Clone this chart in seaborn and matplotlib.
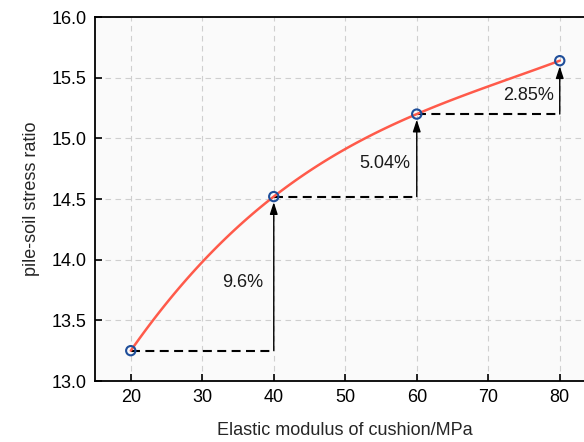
import matplotlib
matplotlib.use("Agg")
import matplotlib.pyplot as plt
import seaborn as sns
import numpy as np
import pandas as pd

# Cushion elastic modulus (MPa) vs. pile-soil stress ratio
modulus = [20, 40, 60, 80]
stress_ratio = [13.25, 14.52, 15.20, 15.64]
increase_labels = ["9.6%", "5.04%", "2.85%"]
x_ticks = [20, 30, 40, 50, 60, 70, 80]
y_ticks = [13.0, 13.5, 14.0, 14.5, 15.0, 15.5, 16.0]

df = pd.DataFrame({"modulus": modulus, "ratio": stress_ratio})

sns.set_theme(style="ticks")
plt.rcParams["font.family"] = ["Liberation Sans", "DejaVu Sans"]

fig = plt.figure(figsize=(5.84, 4.42), dpi=100, facecolor="white")
ax = fig.add_axes([0.1627, 0.138, 0.857, 0.8235])
ax.set_facecolor("#fafafa")

# smooth fitted curve through the four points
sns.regplot(data=df, x="modulus", y="ratio", order=3, ci=None, scatter=False,
            line_kws=dict(color="#ff5a4a", lw=1.8, zorder=3), ax=ax)

# step annotations: dashed baseline and arrow showing the increase
for i in range(len(modulus) - 1):
    x0, x1 = modulus[i], modulus[i + 1]
    y0, y1 = stress_ratio[i], stress_ratio[i + 1]
    ax.plot([x0, x1], [y0, y0], color="black", lw=1.5,
            ls=(0, (4.3, 2.6)), zorder=2)
    ax.annotate("", xy=(x1, y1), xytext=(x1, y0),
                arrowprops=dict(arrowstyle="-|>,head_length=0.55,head_width=0.18",
                                color="black", lw=1.0,
                                shrinkA=0, shrinkB=4, mutation_scale=13),
                zorder=2)
    ax.text(x1 - 4.4, (y0 + y1) / 2 - 0.07, increase_labels[i],
            ha="center", va="center", fontsize=13, color="#1a1a1a")

# open circle markers
sns.scatterplot(data=df, x="modulus", y="ratio", ax=ax, marker="o", s=45,
                facecolor="none", edgecolor="#1f4e9a", linewidth=1.5, zorder=4)

ax.set_xlim(15, 85)
ax.set_ylim(13.0, 16.0)
ax.set_xticks(x_ticks)
ax.set_yticks(y_ticks)
ax.set_yticklabels([f"{v:.1f}" for v in y_ticks])
ax.grid(True, color="#cfcfcf", lw=0.8, ls=(0, (5, 4)))
ax.set_axisbelow(True)

for side in ["left", "bottom", "top", "right"]:
    ax.spines[side].set_color("black")
    ax.spines[side].set_linewidth(1.3)
ax.tick_params(direction="in", length=5, width=1.2, labelsize=13,
               colors="black", pad=6)

ax.set_xlabel("Elastic modulus of cushion/MPa", fontsize=13, labelpad=11)
ax.set_ylabel("pile-soil stress ratio", fontsize=13, labelpad=8)

fig.savefig("out.png", dpi=100, facecolor="white")
